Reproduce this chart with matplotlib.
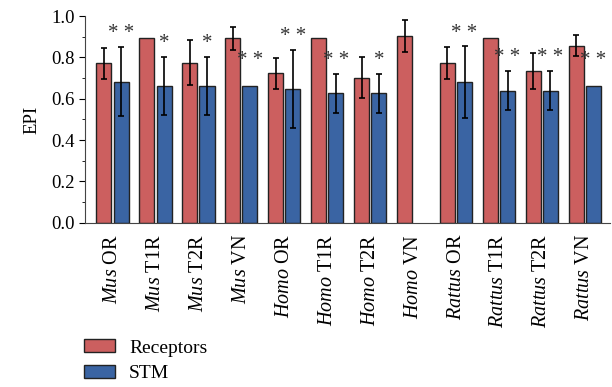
import numpy as np
import matplotlib
matplotlib.use('Agg')
import matplotlib.pyplot as plt

plt.rcParams['font.family'] = ['Liberation Serif', 'DejaVu Serif']
plt.rcParams['mathtext.fontset'] = 'custom'
plt.rcParams['mathtext.it'] = 'Liberation Serif:italic'
plt.rcParams['mathtext.rm'] = 'Liberation Serif'

# data
genus = ['Mus'] * 4 + ['Homo'] * 4 + ['Rattus'] * 4
kind = ['OR', 'T1R', 'T2R', 'VN'] * 3
receptors = [0.771, 0.892, 0.774, 0.892, 0.724, 0.892, 0.702, 0.905, 0.774, 0.892, 0.734, 0.856]
receptors_err = [0.075, np.nan, 0.11, 0.055, 0.075, np.nan, 0.10, 0.078, 0.078, np.nan, 0.086, 0.05]
stm = [0.682, 0.661, 0.661, 0.663, 0.647, 0.626, 0.626, np.nan, 0.679, 0.639, 0.639, 0.663]
stm_err = [0.168, 0.14, 0.14, np.nan, 0.19, 0.095, 0.095, np.nan, 0.174, 0.094, 0.094, np.nan]
stars = ['**', '*', '*', '**', '**', '**', '*', '', '**', '**', '**', '**']

red = '#CC5F5F'
blue = '#3A64A3'

fig = plt.figure(figsize=(6.12, 3.87), dpi=100)
ax = fig.add_axes([0.139, 0.4245, 0.858, 0.534])

x = np.arange(len(kind))
w = 0.35
ax.bar(x - 0.2, receptors, w, color=red, edgecolor='#222222', linewidth=1.0, label='Receptors')
ax.bar(x + 0.2, stm, w, color=blue, edgecolor='#222222', linewidth=1.0, label='STM')

r = np.array(receptors); re = np.array(receptors_err)
s = np.array(stm); se = np.array(stm_err)
m = ~np.isnan(re)
ax.errorbar(x[m] - 0.2, r[m], yerr=re[m], fmt='none', ecolor='black', elinewidth=1.2, capsize=2, capthick=1.2)
m = ~np.isnan(se)
ax.errorbar(x[m] + 0.2, s[m], yerr=se[m], fmt='none', ecolor='black', elinewidth=1.2, capsize=2, capthick=1.2)

# significance marks above the STM bars
for i, st in enumerate(stars):
    if not st:
        continue
    if np.isnan(se[i]):
        y = s[i] + 0.12
    else:
        y = s[i] + se[i] + 0.065
    ax.text(x[i] + 0.2, y, ' '.join(st), ha='center', va='center', fontsize=15, color='#333333')

ax.set_xlim(-0.64, 11.59)
ax.set_ylim(0, 1.0)
ax.set_yticks(np.arange(0, 1.01, 0.2))
ax.set_yticklabels(['%.1f' % v for v in np.arange(0, 1.01, 0.2)], fontsize=13.5)
ax.set_yticks(np.arange(0.1, 1.0, 0.2), minor=True)
ax.tick_params(axis='y', which='major', length=4, direction='out')
ax.tick_params(axis='y', which='minor', length=2, direction='out')
ax.set_ylabel('EPI', fontsize=13.5, labelpad=8)

labels = ['$\\mathit{%s}$ %s' % (g, k) for g, k in zip(genus, kind)]
ax.set_xticks(x)
ax.set_xticklabels(labels, rotation=90, fontsize=14.5)
ax.tick_params(axis='x', length=0, pad=8)

ax.spines['top'].set_visible(False)
ax.spines['right'].set_visible(False)
ax.spines['left'].set_color('#444444')
ax.spines['bottom'].set_color('#444444')

fig.legend(loc='upper left', bbox_to_anchor=(0.125, 0.143), frameon=False,
           fontsize=14, handlelength=1.6, handleheight=0.65, labelspacing=0.42,
           handletextpad=0.7, borderaxespad=0)

plt.savefig('out.png', dpi=100)
